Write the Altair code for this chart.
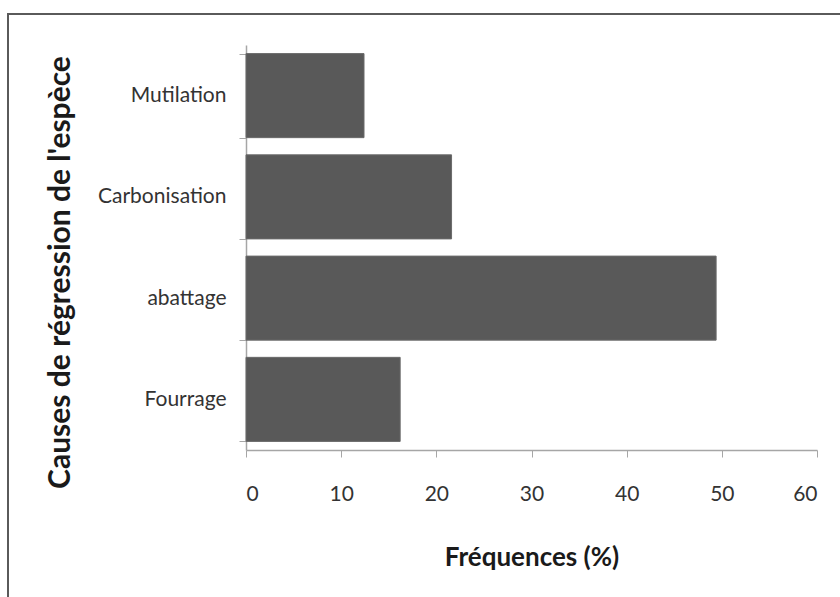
import altair as alt
import pandas as pd

causes = ["Mutilation", "Carbonisation", "abattage", "Fourrage"]
frequences = [12.4, 21.6, 49.4, 16.2]
x_ticks = [0, 10, 20, 30, 40, 50, 60]

df = pd.DataFrame({"cause": causes, "freq": frequences})

FONT = "Lato"

bars = alt.Chart(df).mark_bar(color="#595959", stroke="#6a6a6a", strokeWidth=1).encode(
    y=alt.Y(
        "cause:N",
        sort=causes,
        scale=alt.Scale(paddingInner=0.17, paddingOuter=0.085),
        axis=alt.Axis(
            title="Causes de régression de l'espèce",
            titleFont=FONT,
            titleFontSize=30,
            titleFontWeight="bold",
            titleColor="#1a1a1a",
            titleX=-186,
            titleY=227,
            titleAngle=-90,
            titleAlign="center",
            titleBaseline="middle",
            labelFont=FONT,
            labelFontSize=21,
            labelColor="#333333",
            labelPadding=13,
            tickBand="extent",
            tickSize=7,
            tickColor="#a6a6a6",
            domainColor="#a6a6a6",
            domainWidth=1.5,
        ),
    ),
    x=alt.X(
        "freq:Q",
        scale=alt.Scale(domain=[0, 60], nice=False),
        axis=alt.Axis(
            values=x_ticks,
            grid=False,
            title="Fréquences (%)",
            titleFont=FONT,
            titleFontSize=26,
            titleFontWeight="bold",
            titleColor="#1a1a1a",
            titlePadding=40,
            labelFont=FONT,
            labelFontSize=21,
            labelColor="#333333",
            labelPadding=26,
            tickSize=7,
            tickColor="#a6a6a6",
            domainColor="#a6a6a6",
            domainWidth=1.5,
        ),
    ),
)

frame_df = pd.DataFrame({"k": [0]})
frame = alt.Chart(frame_df).mark_rect(
    fill="transparent", stroke="#5a5a5a", strokeWidth=2
).encode(
    x=alt.value(-238),
    x2=alt.value(610),
    y=alt.value(-31),
    y2=alt.value(570),
)

chart = alt.layer(frame, bars).properties(
    width=571,
    height=405,
    padding={"left": 246, "top": 45, "right": 23, "bottom": 147},
    autosize=alt.AutoSizeParams(type="none"),
    background="white",
).configure_view(stroke=None)

chart.save("out.html", embed_options={"renderer": "svg", "actions": False})
